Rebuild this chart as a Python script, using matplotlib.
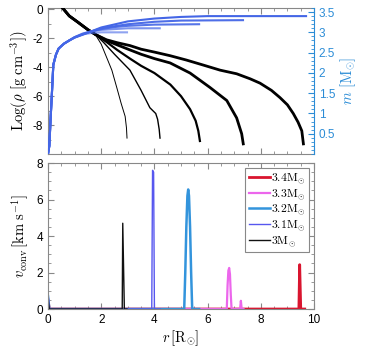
import numpy as np
import matplotlib
matplotlib.use("Agg")
import matplotlib.pyplot as plt
from matplotlib.ticker import MultipleLocator, FixedLocator, FuncFormatter

plt.rcParams['font.family'] = ['Liberation Sans', 'DejaVu Sans']
plt.rcParams['mathtext.fontset'] = 'cm'
plt.rcParams['axes.unicode_minus'] = False

# modelos (orden de dibujo)
labels = [r'$3.4\mathrm{M}_{\odot}$', r'$3.3\mathrm{M}_{\odot}$', r'$3.2\mathrm{M}_{\odot}$',
          r'$3.1\mathrm{M}_{\odot}$', r'$3\mathrm{M}_{\odot}$']
colors = ['#d9152f', '#ec66ec', '#3394dc', '#5757ef', '#111111']

# Log(rho) vs r
rho_r34 = [0.55, 0.8, 1.1, 1.5, 1.8, 2.2, 2.6, 3.08, 3.5, 4.0, 4.59, 5.2, 5.84, 6.47, 7.09, 7.6, 7.97, 8.4, 8.72, 9.0, 9.22, 9.4, 9.54, 9.6]
rho_v34 = [0.1, -0.45, -0.85, -1.4, -1.75, -2.1, -2.3, -2.5, -2.75, -2.95, -3.2, -3.5, -3.85, -4.2, -4.45, -4.8, -5.1, -5.6, -6.1, -6.6, -7.2, -7.8, -8.4, -9.3]
rho_r33 = [0.55, 0.8, 1.1, 1.5, 1.8, 2.2, 2.6, 3.08, 3.5, 4.0, 4.59, 5.34, 6.09, 6.72, 7.09, 7.28, 7.34]
rho_v33 = [0.1, -0.45, -0.85, -1.4, -1.75, -2.15, -2.45, -2.8, -3.1, -3.4, -3.7, -4.4, -5.4, -6.3, -7.5, -8.6, -9.3]
rho_r32 = [0.55, 0.8, 1.1, 1.5, 1.8, 2.2, 2.6, 3.08, 3.5, 4.0, 4.6, 5.0, 5.34, 5.55, 5.65, 5.71]
rho_v32 = [0.1, -0.45, -0.85, -1.4, -1.75, -2.25, -2.8, -3.4, -3.9, -4.4, -5.2, -6.0, -6.9, -7.7, -8.4, -9.1]
rho_r31 = [0.55, 0.8, 1.1, 1.5, 1.8, 2.1, 2.5, 3.08, 3.5, 3.83, 4.05, 4.12, 4.18, 4.21]
rho_v31 = [0.1, -0.45, -0.85, -1.4, -1.75, -2.3, -3.1, -4.2, -5.6, -6.8, -7.2, -7.6, -8.3, -8.9]
rho_r30 = [0.55, 0.8, 1.1, 1.5, 1.8, 2.0, 2.2, 2.4, 2.6, 2.75, 2.85, 2.9, 2.95, 2.97]
rho_v30 = [0.1, -0.45, -0.85, -1.4, -1.8, -2.4, -3.3, -4.2, -5.5, -6.5, -7.1, -7.4, -8.2, -8.9]

# m(r)
m_r34 = [0, 0.05, 0.1, 0.14, 0.2, 0.3, 0.4, 0.6, 0.8, 1.0, 1.3, 2.0, 3.0, 4.0, 5.0, 6.0, 9.7]
m_v34 = [0, 0.2, 0.9, 1.4, 2.2, 2.45, 2.6, 2.72, 2.8, 2.87, 2.94, 3.12, 3.27, 3.34, 3.38, 3.4, 3.4]
m_r33 = [0, 0.05, 0.1, 0.14, 0.2, 0.3, 0.4, 0.6, 0.8, 1.0, 1.3, 2.0, 3.0, 4.0, 5.0, 7.33]
m_v33 = [0, 0.2, 0.9, 1.4, 2.2, 2.45, 2.6, 2.72, 2.8, 2.87, 2.95, 3.1, 3.2, 3.26, 3.29, 3.3]
m_r32 = [0, 0.05, 0.1, 0.14, 0.2, 0.3, 0.4, 0.6, 0.8, 1.0, 1.3, 1.6, 2.0, 2.5, 3.0, 4.0, 5.68]
m_v32 = [0, 0.2, 0.9, 1.4, 2.2, 2.45, 2.6, 2.72, 2.8, 2.88, 2.96, 3.02, 3.08, 3.13, 3.16, 3.19, 3.2]
m_r31 = [0, 0.05, 0.1, 0.14, 0.2, 0.3, 0.4, 0.6, 0.8, 1.0, 1.3, 1.6, 2.0, 2.5, 3.0, 4.2]
m_v31 = [0, 0.2, 0.9, 1.4, 2.2, 2.45, 2.6, 2.72, 2.8, 2.88, 2.97, 3.02, 3.06, 3.08, 3.1, 3.1]
m_r30 = [0, 0.05, 0.1, 0.14, 0.2, 0.3, 0.4, 0.6, 0.8, 1.0, 1.3, 1.6, 2.0, 2.97]
m_v30 = [0, 0.2, 0.9, 1.4, 2.2, 2.45, 2.6, 2.72, 2.8, 2.88, 2.95, 2.98, 3.0, 3.0]

# v_conv vs r
v_r34 = [0, 0.05, 9.43, 9.46, 9.5, 9.65]
v_v34 = [0.5, 0, 0, 2.43, 0, 0]
v_r33 = [0, 0.05, 6.72, 6.75, 6.78, 6.81, 6.84, 6.87, 6.9, 7.22, 7.25, 7.28, 7.35]
v_v33 = [0.5, 0, 0, 1.3, 2.1, 2.25, 1.9, 0.8, 0, 0, 0.45, 0, 0]
v_r32 = [0, 0.05, 5.12, 5.16, 5.2, 5.24, 5.27, 5.3, 5.34, 5.38, 5.42, 5.68]
v_v32 = [0.7, 0, 0, 2.0, 4.5, 6.2, 6.55, 6.2, 4.5, 2.0, 0, 0]
v_r31 = [0, 0.03, 0.06, 3.9, 3.93, 3.97, 4.0, 4.22]
v_v31 = [1.0, 0.3, 0, 0, 7.6, 7.5, 0, 0]
v_r30 = [0, 0.05, 2.79, 2.81, 2.87, 2.97]
v_v30 = [0.6, 0, 0, 4.7, 0, 0]

rho_r = [rho_r34, rho_r33, rho_r32, rho_r31, rho_r30]
rho_v = [rho_v34, rho_v33, rho_v32, rho_v31, rho_v30]
m_r = [m_r34, m_r33, m_r32, m_r31, m_r30]
m_v = [m_v34, m_v33, m_v32, m_v31, m_v30]
v_r = [v_r34, v_r33, v_r32, v_r31, v_r30]
v_v = [v_v34, v_v33, v_v32, v_v31, v_v30]

rho_lw = [2.0, 2.0, 1.6, 1.0, 0.7]
v_lw = [2.0, 1.6, 1.8, 1.0, 1.0]
m_alpha = [1.0, 0.95, 0.9, 0.7, 0.6]

gris = '#888888'
azul_ax = '#2b8cd6'
azul = '#4466e6'

fig = plt.figure(figsize=(3.77, 3.48), dpi=100)
ax1 = fig.add_axes([0.1273, 0.5575, 0.7057, 0.4195])
ax2 = fig.add_axes([0.1273, 0.112, 0.7057, 0.4196])

# panel superior
for i in range(5):
    ax1.plot(rho_r[i], rho_v[i], color='black', lw=rho_lw[i], zorder=3)
ax1.set_xlim(0, 10)
ax1.set_ylim(-10, 0.1)
ax1.set_ylabel(r'$\mathrm{Log}(\rho\ [\mathrm{g\ cm}^{-3}])$', fontsize=10.5, labelpad=2)
ax1.xaxis.set_major_locator(MultipleLocator(2))
ax1.xaxis.set_minor_locator(MultipleLocator(0.5))
ax1.yaxis.set_major_locator(FixedLocator([-8, -6, -4, -2, 0]))
ax1.yaxis.set_minor_locator(MultipleLocator(1))
ax1.yaxis.set_major_formatter(FuncFormatter(lambda v, p: '%g' % v))
ax1.tick_params(which='both', direction='in', top=True, right=False, color=gris,
                labelbottom=False, labelsize=8.5)
ax1.tick_params(which='major', length=4)
ax1.tick_params(which='minor', length=2)
for s in ax1.spines.values():
    s.set_color(gris)
ax1.spines['right'].set_visible(False)

axm = ax1.twinx()
for i in range(5):
    axm.plot(m_r[i], m_v[i], color=azul, lw=1.5, alpha=m_alpha[i], zorder=2)
axm.set_ylim(0, 3.6)
axm.yaxis.set_major_locator(FixedLocator([0.5, 1, 1.5, 2, 2.5, 3, 3.5]))
axm.yaxis.set_minor_locator(MultipleLocator(0.1))
axm.yaxis.set_major_formatter(FuncFormatter(lambda v, p: '%g' % v))
axm.tick_params(which='both', direction='in', color=azul_ax, labelcolor=azul_ax, labelsize=8.5)
axm.tick_params(which='major', length=4)
axm.tick_params(which='minor', length=2)
axm.set_ylabel(r'$m\ [\mathrm{M}_{\odot}]$', color=azul_ax, fontsize=10.5, labelpad=2)
for k in ['top', 'left', 'bottom']:
    axm.spines[k].set_visible(False)
axm.spines['right'].set_color(azul_ax)

# panel inferior
for i in range(5):
    ax2.plot(v_r[i], v_v[i], color=colors[i], lw=v_lw[i], label=labels[i])
ax2.set_xlim(0, 10)
ax2.set_ylim(0, 8)
ax2.xaxis.set_major_locator(MultipleLocator(2))
ax2.xaxis.set_minor_locator(MultipleLocator(0.5))
ax2.yaxis.set_major_locator(MultipleLocator(2))
ax2.yaxis.set_minor_locator(MultipleLocator(0.5))
ax2.tick_params(which='both', direction='in', top=True, right=True, color=gris, labelsize=8.5)
ax2.tick_params(which='major', length=4)
ax2.tick_params(which='minor', length=2)
for s in ax2.spines.values():
    s.set_color(gris)
ax2.set_xlabel(r'$r\,[\mathrm{R}_{\odot}]$', fontsize=10.5, labelpad=2)
ax2.set_ylabel(r'$v_{\rm conv}\,[\mathrm{km\ s}^{-1}]$', fontsize=10.5, labelpad=4)
leg = ax2.legend(loc='upper right', fontsize=8.5, fancybox=False, edgecolor=gris,
                 framealpha=1, handlelength=1.8, handletextpad=0.1, labelspacing=0.1,
                 borderpad=0.3, borderaxespad=0.4)
leg.get_frame().set_linewidth(0.8)

fig.savefig('out.png', dpi=100)
